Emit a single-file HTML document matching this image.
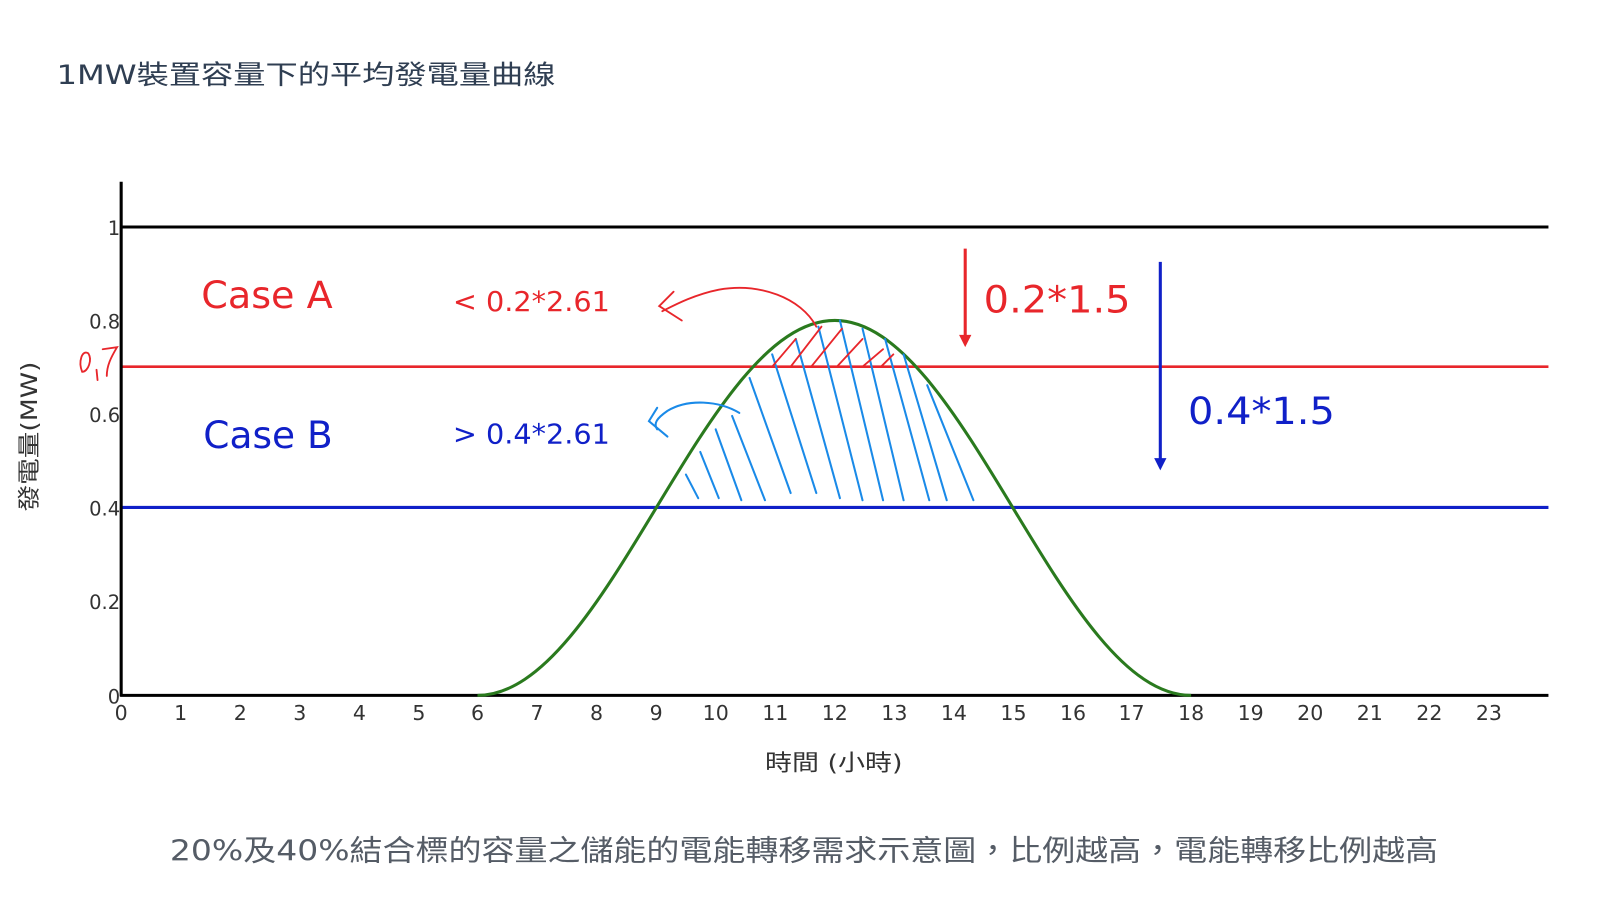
<!DOCTYPE html>
<html><head><meta charset="utf-8"><style>
html,body{margin:0;padding:0;background:#fff;}
svg{display:block;}
text{font-family:"DejaVu Sans","Noto Sans CJK TC",sans-serif;}
</style></head><body>
<svg width="1608" height="908" viewBox="0 0 1566 884" preserveAspectRatio="none" xmlns="http://www.w3.org/2000/svg">
<rect width="1566" height="884" fill="#fff"/>
<text x="55" y="82" font-size="26" fill="#2f3e52" textLength="486" lengthAdjust="spacingAndGlyphs">1MW裝置容量下的平均發電量曲線</text>

<line x1="118" y1="221" x2="1508" y2="221" stroke="#000" stroke-width="3"/>
<line x1="118" y1="357" x2="1508" y2="357" stroke="#e8262b" stroke-width="2.5"/>
<line x1="118" y1="494" x2="1508" y2="494" stroke="#1020c8" stroke-width="3"/>
<line x1="118" y1="177" x2="118" y2="678" stroke="#000" stroke-width="3"/>
<line x1="117" y1="677" x2="1508" y2="677" stroke="#000" stroke-width="3"/>

<g font-size="19" fill="#333" text-anchor="end">
<text x="117" y="229">1</text>
<text x="117" y="320">0.8</text>
<text x="117" y="411">0.6</text>
<text x="117" y="502">0.4</text>
<text x="117" y="593">0.2</text>
<text x="117" y="685">0</text>
</g>
<g font-size="20" fill="#333" text-anchor="middle">
<text x="118" y="701">0</text><text x="176" y="701">1</text><text x="234" y="701">2</text><text x="292" y="701">3</text><text x="350" y="701">4</text><text x="408" y="701">5</text><text x="465" y="701">6</text><text x="523" y="701">7</text><text x="581" y="701">8</text><text x="639" y="701">9</text><text x="697" y="701">10</text><text x="755" y="701">11</text><text x="813" y="701">12</text><text x="871" y="701">13</text><text x="929" y="701">14</text><text x="987" y="701">15</text><text x="1045" y="701">16</text><text x="1102" y="701">17</text><text x="1160" y="701">18</text><text x="1218" y="701">19</text><text x="1276" y="701">20</text><text x="1334" y="701">21</text><text x="1392" y="701">22</text><text x="1450" y="701">23</text>
</g>
<text x="812" y="750" font-size="22" fill="#333" text-anchor="middle" textLength="134" lengthAdjust="spacingAndGlyphs">時間 (小時)</text>
<text transform="translate(36,425) rotate(-90)" font-size="22" fill="#333" text-anchor="middle" textLength="146" lengthAdjust="spacingAndGlyphs">發電量(MW)</text>

<path d="M465,677 C592,677 686,312 813,312 C939,312 1034,677 1160,677" fill="none" stroke="#2a7a1e" stroke-width="3"/>

<g stroke="#1a8ae8" stroke-width="2" fill="none" stroke-linecap="round">
<path d="M668,462 L680,485"/><path d="M682,440 L700,485"/><path d="M697,418 L722,487"/><path d="M713,405 L745,487"/>
<path d="M730,368 L770,480"/><path d="M752,345 L795,480"/><path d="M775,330 L818,485"/><path d="M797,318 L840,487"/>
<path d="M818,312 L860,487"/><path d="M840,320 L880,487"/><path d="M862,330 L905,487"/><path d="M880,345 L922,487"/><path d="M903,375 L948,487"/>
<path d="M720,402 C700,390 670,388 650,400 C640,407 636,412 640,418"/>
<path d="M640,397 L632,410 L650,425"/>
</g>
<g stroke="#e8262b" stroke-width="1.8" fill="none" stroke-linecap="round">
<path d="M752,357 L775,330"/><path d="M770,357 L800,318"/><path d="M790,357 L820,320"/><path d="M815,357 L840,330"/><path d="M840,357 L860,340"/><path d="M858,357 L870,345"/>
<path d="M795,318 C780,290 740,275 700,282 C675,287 655,298 645,303"/>
<path d="M656,284 L642,298 L664,312"/>
<path d="M80,362 C76,352 80,340 86,344 C90,350 86,362 80,362 M94,360 L95,370 M100,340 L114,338 C108,348 104,356 104,366"/>
</g>

<text x="196" y="300" font-size="36" fill="#e8262b" textLength="128" lengthAdjust="spacingAndGlyphs">Case A</text>
<text x="198" y="436" font-size="36" fill="#1020c8" textLength="126" lengthAdjust="spacingAndGlyphs">Case B</text>
<text x="441" y="303" font-size="27" fill="#e8262b" textLength="153" lengthAdjust="spacingAndGlyphs">&lt; 0.2*2.61</text>
<text x="441" y="432" font-size="27" fill="#1020c8" textLength="153" lengthAdjust="spacingAndGlyphs">&gt; 0.4*2.61</text>
<text x="958" y="304" font-size="36" fill="#e8262b" textLength="143" lengthAdjust="spacingAndGlyphs">0.2*1.5</text>
<text x="1157" y="413" font-size="36" fill="#1020c8" textLength="143" lengthAdjust="spacingAndGlyphs">0.4*1.5</text>

<line x1="940" y1="242" x2="940" y2="330" stroke="#e8262b" stroke-width="3"/>
<path d="M934,326 L940,338 L946,326 Z" fill="#e8262b"/>
<line x1="1130" y1="255" x2="1130" y2="450" stroke="#1020c8" stroke-width="3"/>
<path d="M1124,446 L1130,458 L1136,446 Z" fill="#1020c8"/>

<text x="783" y="838" font-size="28" fill="#555c66" text-anchor="middle" textLength="1235" lengthAdjust="spacingAndGlyphs">20%及40%結合標的容量之儲能的電能轉移需求示意圖，比例越高，電能轉移比例越高</text>
</svg>
</body></html>
